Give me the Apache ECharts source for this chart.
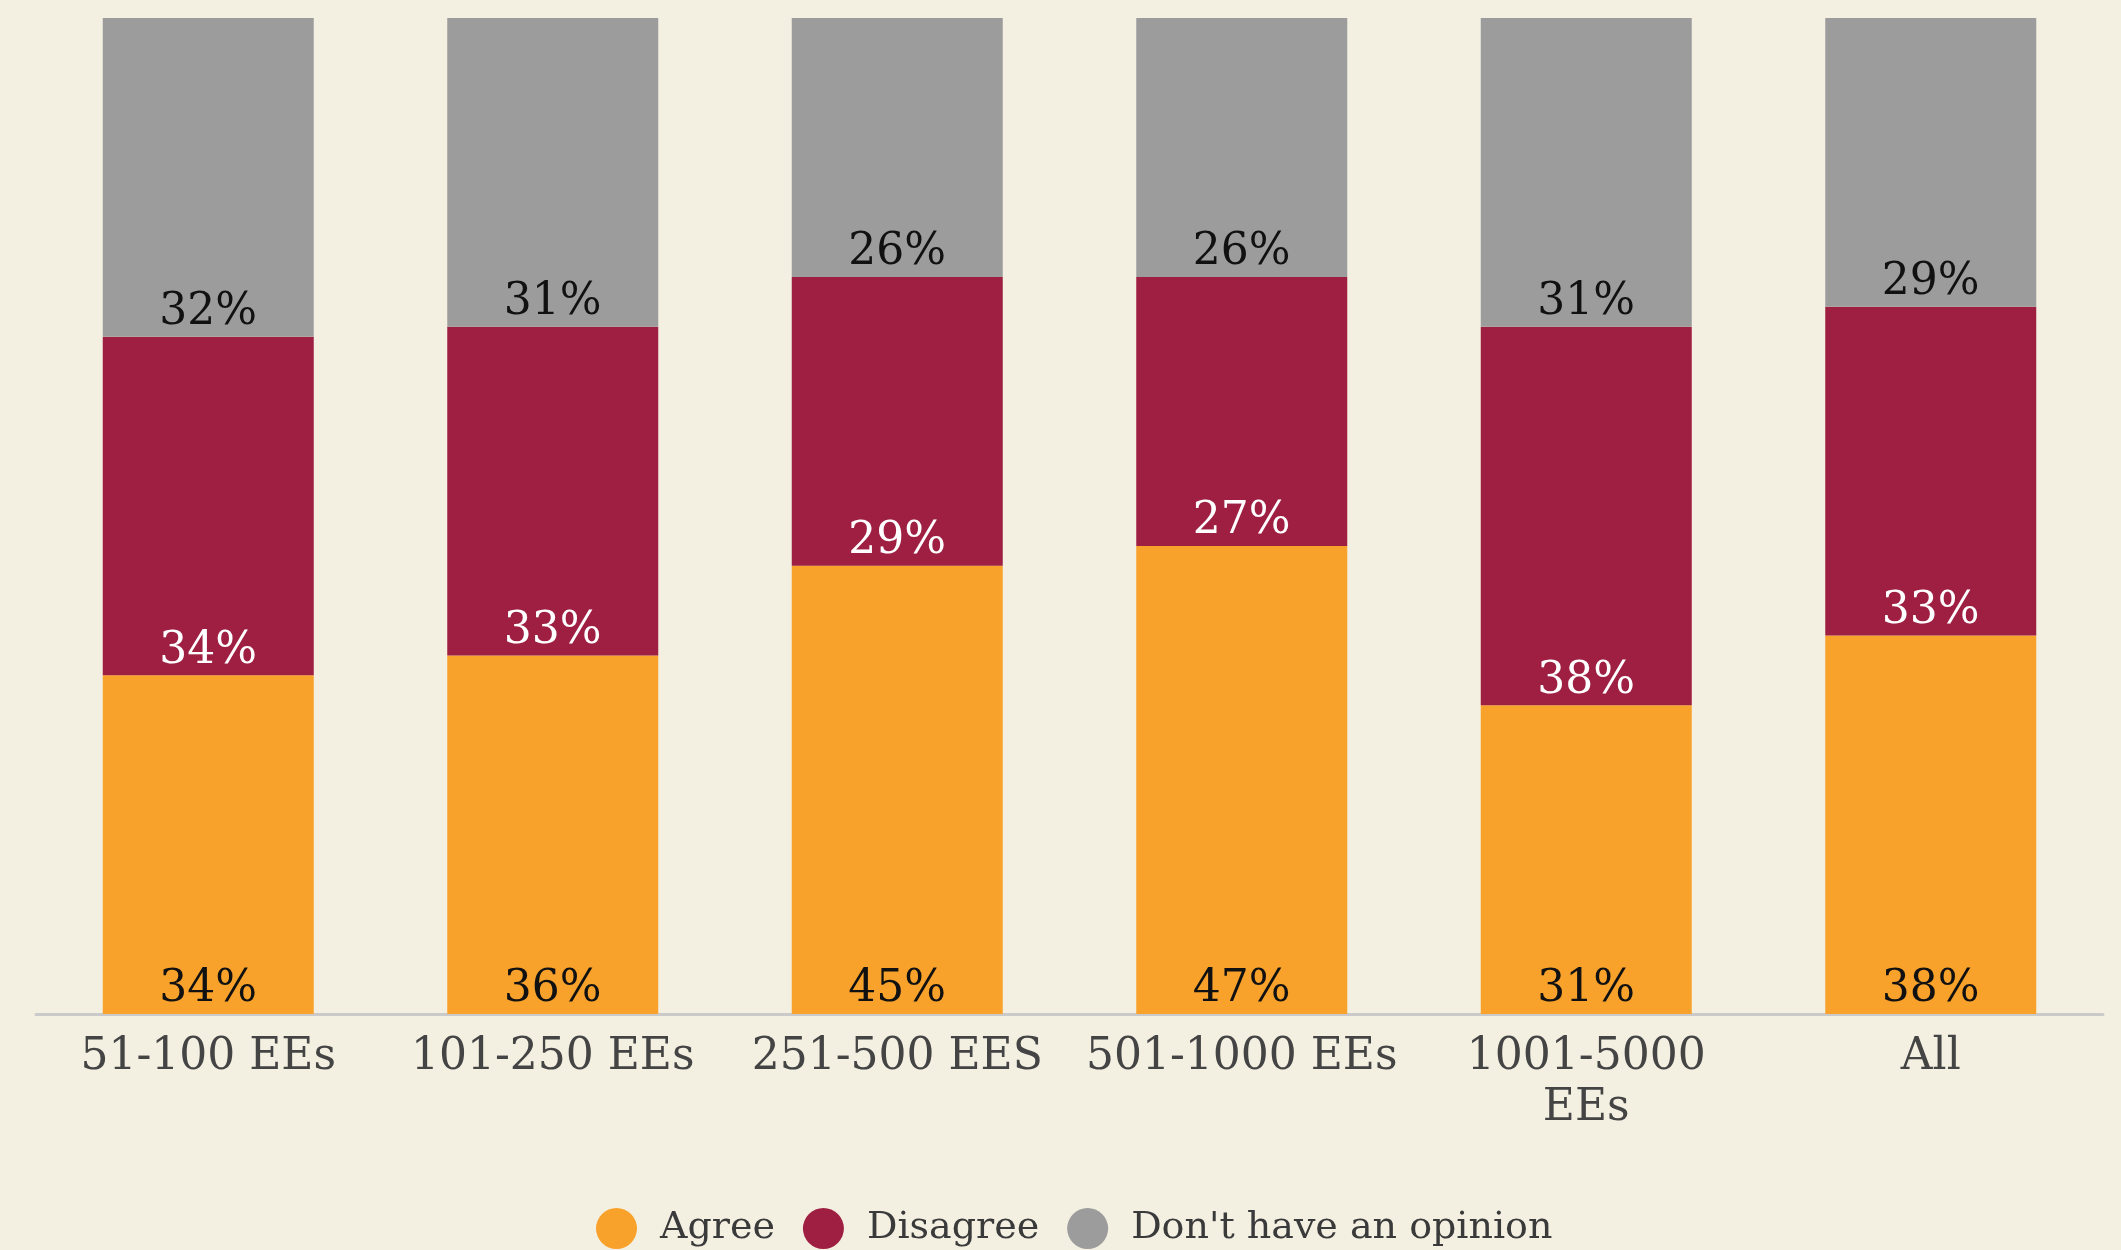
<!DOCTYPE html>
<html>
<head>
<meta charset="utf-8">
<script src="https://cdn.jsdelivr.net/npm/echarts@6/dist/echarts.min.js"></script>
<style>
  html, body { margin: 0; padding: 0; background: #F3F0E2; }
  #chart { width: 2121px; height: 1250px; }
</style>
</head>
<body>
<div id="chart"></div>
<script>
// Company size groups (employees) and survey response shares, in percent
const categories = ['51-100 EEs', '101-250 EEs', '251-500 EES', '501-1000 EEs', '1001-5000\nEEs', 'All'];
const agree = [34, 36, 45, 47, 31, 38];
const disagree = [34, 33, 29, 27, 38, 33];
const noOpinion = [32, 31, 26, 26, 31, 29];
const seriesNames = ['Agree', 'Disagree', "Don't have an opinion"];

const FONT = '"DejaVu Serif", "Liberation Serif", serif';
const colors = ['#F9A22B', '#9E1F42', '#9C9C9C'];
const labelColors = ['#111111', '#FFFFFF', '#111111'];

function makeSeries(name, values, idx) {
  return {
    name: name,
    type: 'bar',
    stack: 'total',
    barWidth: 211,
    data: values,
    itemStyle: { color: colors[idx] },
    label: {
      show: true,
      position: 'insideBottom',
      distance: 2,
      formatter: '{c}%',
      color: labelColors[idx],
      fontFamily: FONT,
      fontSize: 44,
      lineHeight: 44
    }
  };
}

const chart = echarts.init(document.getElementById('chart'));
chart.setOption({
  backgroundColor: '#F3F0E2',
  animation: false,
  grid: { left: 36, right: 18, top: 18, bottom: 236, containLabel: false },
  legend: {
    top: 1203,
    left: 591,
    icon: 'circle',
    itemWidth: 41,
    itemHeight: 41,
    itemGap: 28,
    data: seriesNames,
    textStyle: {
      fontFamily: FONT,
      fontSize: 38,
      color: '#3A3A3A',
      padding: [0, 0, 0, 18]
    }
  },
  xAxis: {
    type: 'category',
    data: categories,
    axisLine: { show: true, lineStyle: { color: '#CACACA', width: 3 } },
    axisTick: { show: false },
    axisLabel: {
      fontFamily: FONT,
      fontSize: 44,
      lineHeight: 51,
      color: '#444444',
      margin: 18,
      interval: 0
    }
  },
  yAxis: {
    type: 'value',
    min: 0,
    max: 100,
    show: false,
    splitLine: { show: false }
  },
  series: [
    makeSeries(seriesNames[0], agree, 0),
    makeSeries(seriesNames[1], disagree, 1),
    makeSeries(seriesNames[2], noOpinion, 2)
  ]
});
</script>
</body>
</html>
